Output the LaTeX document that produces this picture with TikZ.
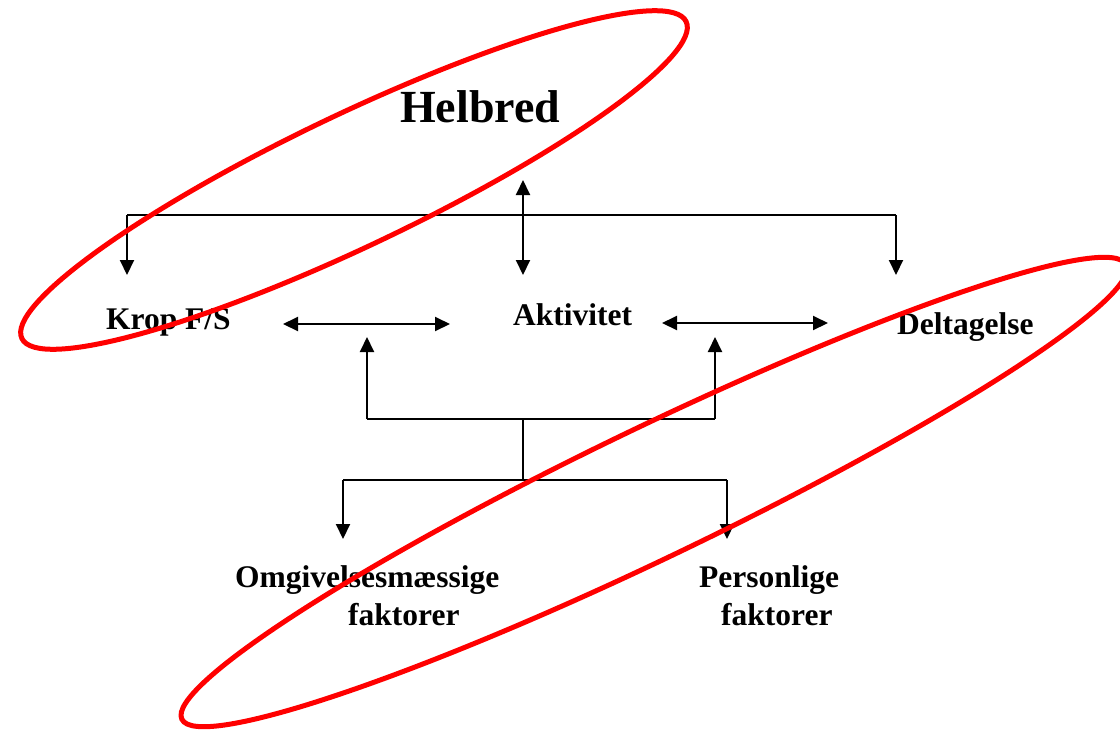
\documentclass[tikz,border=0pt]{standalone}
\usepackage{fontspec}
\setmainfont{Liberation Serif}
\usetikzlibrary{arrows.meta}

\tikzset{
	>={Triangle[length=15pt,width=14pt]},
	lbl/.style={font=\fontsize{31.5}{38}\selectfont\bfseries, inner sep=0pt, anchor=base west},
	wire/.style={line width=2pt},
	ring/.style={draw=red, line width=5pt},
}

\begin{document}
\begin{tikzpicture}[x=1pt,y=-1pt]
	\useasboundingbox (0,0) rectangle (1120,732);

	\node[lbl, font=\fontsize{46}{50}\selectfont\bfseries] (helbred) at (400,122) {Helbred};
	\node[lbl] (krop) at (106,329) {Krop F/S};
	\node[lbl] (aktiv) at (513,325) {Aktivitet};
	\node[lbl] (delt) at (897,334) {Deltagelse};
	\node[lbl, align=left] (omgiv) at (235,625) {Omgivelsesmæssige\\\hspace*{113pt}faktorer};
	\node[lbl, align=left] (person) at (699,625) {Personlige\\\hspace*{22pt}faktorer};

	\coordinate (h1) at (523,180);
	\coordinate (h2) at (523,275);
	\coordinate (t1) at (127,215);
	\coordinate (t2) at (896,215);
	\coordinate (k1) at (127,275);
	\coordinate (d1) at (896,275);
	\coordinate (ka1) at (283,324);
	\coordinate (ka2) at (450,324);
	\coordinate (ad1) at (662,323);
	\coordinate (ad2) at (828,323);
	\coordinate (u1) at (367,337);
	\coordinate (u2) at (715,337);
	\coordinate (m1) at (367,419);
	\coordinate (m2) at (715,419);
	\coordinate (m3) at (523,419);
	\coordinate (m4) at (523,480);
	\coordinate (b1) at (343,480);
	\coordinate (b2) at (727,480);
	\coordinate (o1) at (343,539);
	\coordinate (p1) at (727,539);

	\draw[wire] (t1) -- (t2);
	\path[wire,->] (t1) edge (k1);
	\path[wire,->] (t2) edge (d1);
	\path[wire,<->] (h1) edge (h2);
	\path[wire,<->] (ka1) edge (ka2);
	\path[wire,<->] (ad1) edge (ad2);

	\draw[wire] (m1) -- (m2);
	\path[wire,->] (m1) edge (u1);
	\path[wire,->] (m2) edge (u2);
	\draw[wire] (m3) -- (m4);
	\draw[wire] (b1) -- (b2);
	\path[wire,->] (b1) edge (o1);
	\path[wire,->] (b2) edge (p1);

	\draw[ring, rotate around={25.5:(354,180)}] (354,180) ellipse [x radius=368, y radius=66];
	\draw[ring, rotate around={25.7:(654,492)}] (654,492) ellipse [x radius=524, y radius=65];
\end{tikzpicture}
\end{document}
